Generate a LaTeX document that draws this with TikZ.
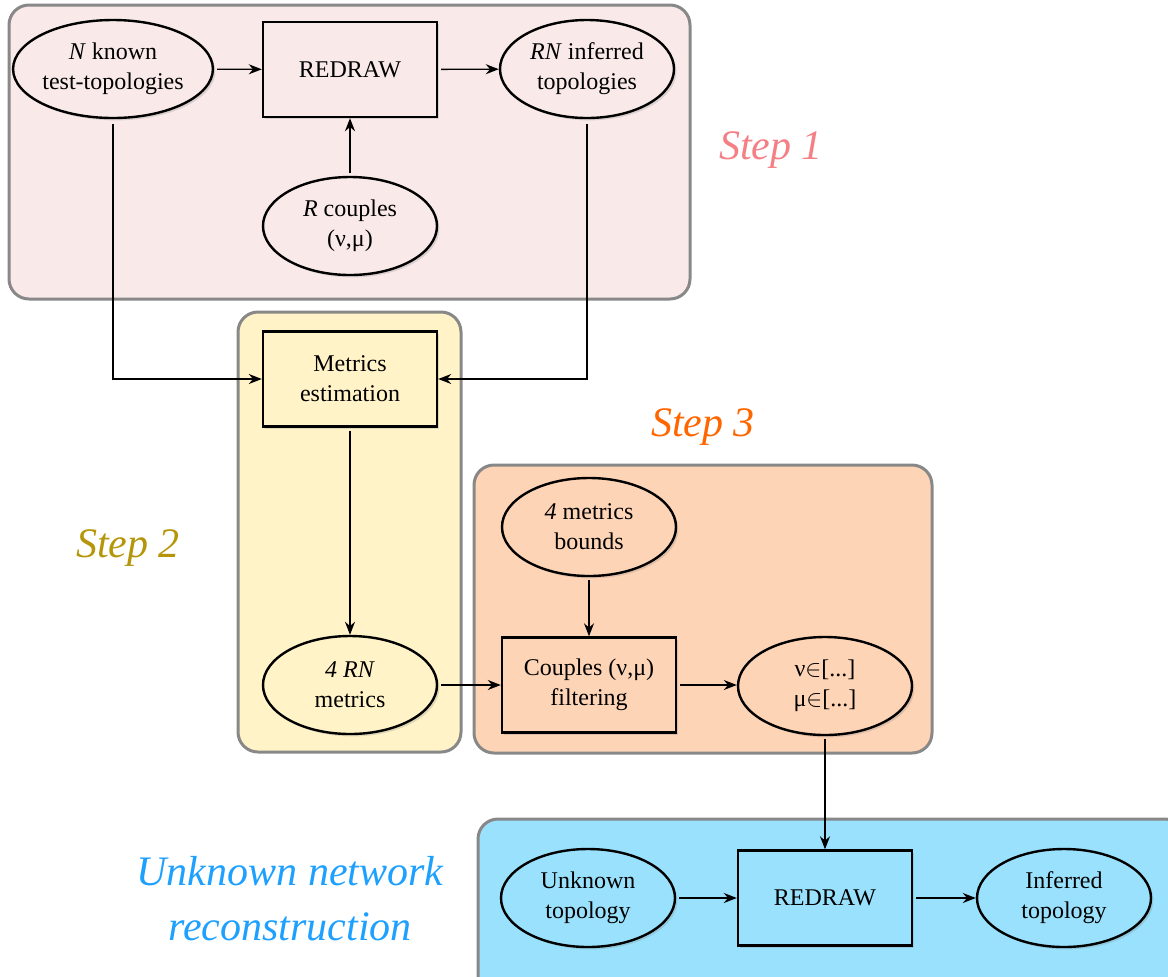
\documentclass[tikz,border=0pt]{standalone}
\usepackage{fontspec}
\setmainfont{Liberation Serif}
\usetikzlibrary{arrows.meta,shapes.geometric,shadows}

% fills of the four stages
\definecolor{stepone}{RGB}{249,234,233}
\definecolor{steptwo}{RGB}{255,243,199}
\definecolor{stepthree}{RGB}{254,212,182}
\definecolor{stepfour}{RGB}{153,225,252}
\definecolor{framegray}{RGB}{136,136,136}
% label colours
\definecolor{labelone}{RGB}{244,128,134}
\definecolor{labeltwo}{RGB}{181,150,10}
\definecolor{labelthree}{RGB}{255,102,0}
\definecolor{labelfour}{RGB}{30,160,255}

\newcommand{\diagfont}{\fontsize{12}{15}\selectfont}

\tikzset{
  blob/.style={ellipse, draw, line width=1.2pt, minimum width=87pt, minimum height=49pt,
    inner sep=0pt, align=center, font=\diagfont,
    drop shadow={opacity=0.25, shadow xshift=1.2pt, shadow yshift=-1.2pt}},
  block/.style={rectangle, draw, line width=1.2pt, minimum width=87pt, minimum height=47.5pt,
    inner sep=0pt, align=center, font=\diagfont,
    drop shadow={opacity=0.25, shadow xshift=1.2pt, shadow yshift=-1.2pt}},
  group/.style={draw=framegray, line width=1.5pt, rounded corners=10pt},
  flow/.style={-{Stealth[length=6.5pt,width=5pt]}, line width=0.7pt, shorten <=1.5pt},
  steplabel/.style={font=\fontsize{21}{27.5}\selectfont\itshape, align=center}
}

\begin{document}
\begin{tikzpicture}[x=0.5pt, y=-0.5pt]
    \useasboundingbox (0,0) rectangle (1168,976);

    % Frames of the stages
    \draw[group, fill=stepone] (9,5) rectangle (690,299);
    \draw[group, fill=steptwo] (238,312) rectangle (461,752);
    \draw[group, fill=stepthree] (474,465) rectangle (932,753);
    \draw[group, fill=stepfour] (478,819) rectangle (1185,995);

    % Step 1
    \node[blob, fill=stepone] (known) at (113,69) {\textit{N} known\\test-topologies};
    \node[block, fill=stepone] (redraw) at (350,69.5) {REDRAW};
    \node[blob, fill=stepone] (inferred) at (587,69) {\textit{RN} inferred\\topologies};
    \node[blob, fill=stepone] (couples) at (350,226) {\textit{R} couples\\(ν,μ)};

    % Step 2
    \node[block, fill=steptwo] (metrics) at (350,379) {Metrics\\estimation};
    \node[blob, fill=steptwo] (rnmetrics) at (350,685) {\textit{4 RN}\\metrics};

    % Step 3
    \node[blob, fill=stepthree] (bounds) at (589,527) {\textit{4} metrics\\bounds};
    \node[block, fill=stepthree] (filter) at (589,685) {Couples (ν,μ)\\filtering};
    \node[blob, fill=stepthree] (ranges) at (825,686) {ν$\in$[...]\\μ$\in$[...]};

    % Unknown network
    \node[blob, fill=stepfour] (unknown) at (588,898) {Unknown\\topology};
    \node[block, fill=stepfour] (redrawb) at (825,898) {REDRAW};
    \node[blob, fill=stepfour] (result) at (1064,898) {Inferred\\topology};

    % Stage labels
    \node[steplabel, text=labelone] (stepa) at (771,150) {Step 1};
    \node[steplabel, text=labeltwo] (stepb) at (128,548) {Step 2};
    \node[steplabel, text=labelthree] (stepc) at (703,427) {Step 3};
    \node[steplabel, text=labelfour] (stepd) at (290,899) {Unknown network\\reconstruction};

    % Connectors
    \draw[flow] (known) -- (redraw);
    \draw[flow] (redraw) -- (inferred);
    \draw[flow] (couples) -- (redraw);
    \draw[flow, shorten <=2.5pt] (known.south) |- (metrics.west);
    \draw[flow, shorten <=2.5pt] (inferred.south) |- (metrics.east);
    \draw[flow] (metrics) -- (rnmetrics);
    \draw[flow] (rnmetrics) -- (filter);
    \draw[flow] (bounds) -- (filter);
    \draw[flow] (filter.east) -- (filter.east -| ranges.west);
    \draw[flow] (ranges) -- (redrawb);
    \draw[flow] (unknown) -- (redrawb);
    \draw[flow] (redrawb) -- (result);
\end{tikzpicture}
\end{document}
